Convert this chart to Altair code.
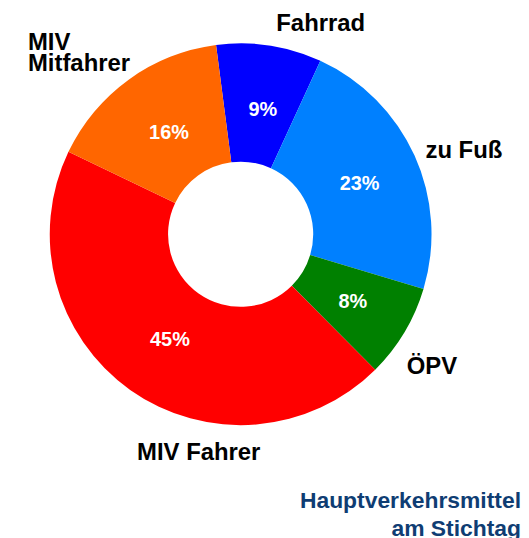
import math
import altair as alt
import pandas as pd

# --- data ---
categories = ["Fahrrad", "zu Fuß", "ÖPV", "MIV Fahrer", "MIV\nMitfahrer"]
values = [9, 23, 8, 45, 16]
colors = ["#0000FF", "#0080FF", "#008000", "#FF0000", "#FF6600"]
title_lines = ["Hauptverkehrsmittel", "am Stichtag"]

df = pd.DataFrame({"kategorie": categories, "anteil": values, "idx": list(range(len(values)))})
total = sum(values)

start = 2 * math.pi - math.radians(7.4)
theta_scale = alt.Scale(domain=[0, total], range=[start, start + 2 * math.pi])
color_scale = alt.Scale(domain=categories, range=colors)

FONT = "Liberation Sans"
base = alt.Chart(df)

arcs = base.mark_arc(innerRadius=73, outerRadius=192).encode(
    theta=alt.Theta("anteil:Q", stack=True, scale=theta_scale),
    color=alt.Color("kategorie:N", scale=color_scale, legend=None),
    order=alt.Order("idx:Q"),
)

pct = base.transform_calculate(label="datum.anteil + '%'").mark_text(
    radius=128, dx=3, dy=2, font=FONT, fontSize=20, fontWeight="bold", color="white"
).encode(
    theta=alt.Theta("anteil:Q", stack=True, scale=theta_scale),
    order=alt.Order("idx:Q"),
    text="label:N",
)

# label layout (dx, dy, align) per slice index
label_layout = [
    (46, 16, "center"),
    (15, 11, "center"),
    (-5, 15, "center"),
    (91, 33, "center"),
    (-79, -6, "left"),
]

cum = base.transform_window(
    cum="sum(anteil)", sort=[alt.SortField("idx")], frame=[None, 0]
).transform_calculate(mid="datum.cum - datum.anteil / 2")

label_layers = []
for i, (dx, dy, align) in enumerate(label_layout):
    label_layers.append(
        cum.transform_filter(alt.datum.idx == i).mark_text(
            radius=230, dx=dx, dy=dy, align=align, baseline="middle",
            lineBreak="\n", lineHeight=21, font=FONT, fontSize=24,
            fontWeight="bold", color="black",
        ).encode(
            theta=alt.Theta("mid:Q", scale=theta_scale),
            text="kategorie:N",
        )
    )

chart = alt.layer(arcs, pct, *label_layers).properties(
    width=468,
    height=452,
    padding=0,
    title=alt.TitleParams(
        text=title_lines, orient="bottom", anchor="end", frame="group",
        dx=48, offset=25, fontSize=23, font=FONT, fontWeight="bold",
        color="#0F3D73", lineHeight=28,
    ),
).configure_view(stroke=None)

chart.save("out.html", embed_options={"renderer": "svg", "actions": False})
